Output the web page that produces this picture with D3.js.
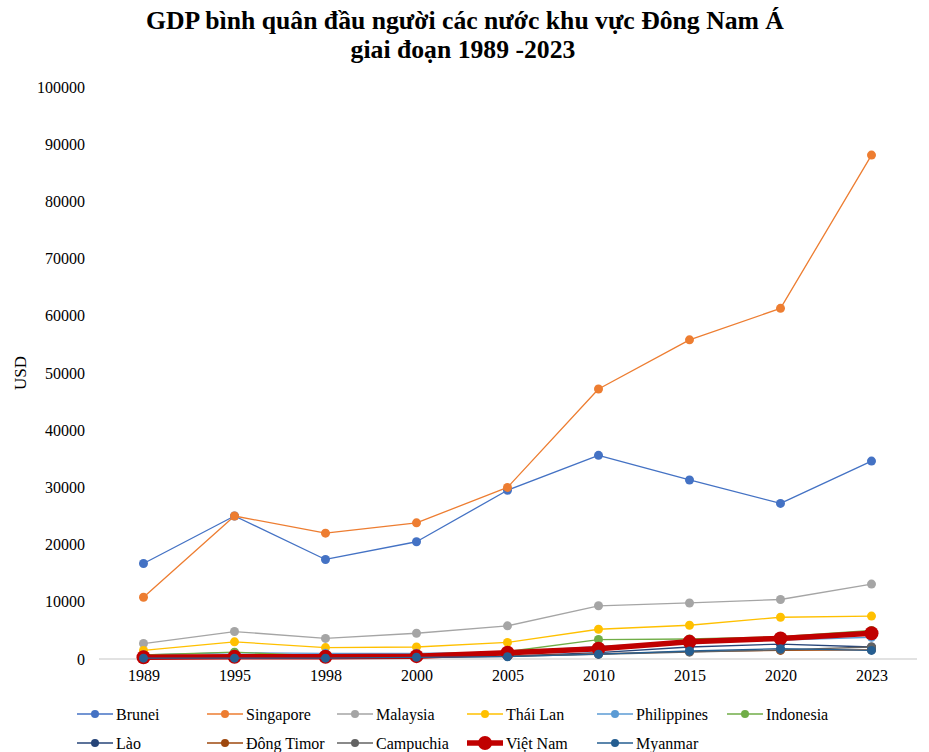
<!DOCTYPE html>
<html>
<head>
<meta charset="utf-8">
<script src="https://cdn.jsdelivr.net/npm/d3@7"></script>
<style>
  body { margin: 0; background: #fff; }
  svg text { font-family: 'Liberation Serif', 'Times New Roman', serif; fill: #000; }
</style>
</head>
<body>
<script>
const years = ['1989', '1995', '1998', '2000', '2005', '2010', '2015', '2020', '2023']
const yTicks = [0, 10000, 20000, 30000, 40000, 50000, 60000, 70000, 80000, 90000, 100000]

const brunei = [16700, 25000, 17400, 20500, 29500, 35600, 31300, 27200, 34600]
const singapore = [10800, 25000, 22000, 23800, 30000, 47200, 55800, 61300, 88100]
const malaysia = [2700, 4800, 3600, 4500, 5800, 9300, 9800, 10400, 13100]
const thaiLan = [1500, 3000, 2000, 2100, 2900, 5200, 5900, 7300, 7500]
const philippines = [700, 1100, 1000, 1000, 1200, 2200, 2900, 3300, 3800]
const indonesia = [700, 1200, 500, 800, 1300, 3400, 3500, 3900, 5000]
const lao = [200, 400, 300, 300, 500, 1100, 2100, 2600, 2100]
const dongTimor = [300, 400, 400, 400, 500, 900, 1300, 1500, 1600]
const campuchia = [100, 300, 270, 300, 470, 800, 1200, 1600, 2100]
const vietNam = [300, 400, 400, 500, 1100, 1800, 3000, 3600, 4500]
const myanmar = [150, 150, 150, 300, 400, 850, 1400, 1800, 1500]

const series = [
  { name: 'Brunei', values: brunei, color: '#4472C4' },
  { name: 'Singapore', values: singapore, color: '#ED7D31' },
  { name: 'Malaysia', values: malaysia, color: '#A5A5A5' },
  { name: 'Thái Lan', values: thaiLan, color: '#FFC000' },
  { name: 'Philippines', values: philippines, color: '#5B9BD5' },
  { name: 'Indonesia', values: indonesia, color: '#70AD47' },
  { name: 'Lào', values: lao, color: '#264478' },
  { name: 'Đông Timor', values: dongTimor, color: '#9E480E' },
  { name: 'Campuchia', values: campuchia, color: '#636363' },
  { name: 'Việt Nam', values: vietNam, color: '#C00000', bold: true },
  { name: 'Myanmar', values: myanmar, color: '#255E91' }
]

const W = 929
const H = 752
const serif = "'Liberation Serif', 'Times New Roman', serif"
const svg = d3.select('body').append('svg')
  .attr('width', W)
  .attr('height', H)

const xScale = d3.scalePoint()
  .domain(years)
  .range([98, 917])
  .padding(0.5)

const yScale = d3.scaleLinear()
  .domain([0, 100000])
  .range([659, 87])

// title
const title = svg.append('text')
  .attr('text-anchor', 'middle')
  .attr('font-family', serif)
  .style('font-size', '25.7px').style('font-weight', 'bold')
title.append('tspan').attr('x', 465).attr('y', 29)
  .text('GDP bình quân đầu người các nước khu vực Đông Nam Á')
title.append('tspan').attr('x', 463).attr('y', 58)
  .text('giai đoạn 1989 -2023')

// y axis labels
const yAxis = svg.append('g')
  .attr('transform', 'translate(85, 0)')
  .call(d3.axisLeft(yScale).tickValues(yTicks).tickSize(0).tickPadding(0).tickFormat(d3.format('d')))
yAxis.attr('font-family', serif).attr('font-size', 16)
yAxis.select('.domain').remove()
yAxis.selectAll('text')
  .style('font-family', serif)
  .style('font-size', '16px')
  .attr('fill', '#000')

svg.append('text')
  .attr('transform', `translate(26, ${yScale(50000)}) rotate(-90)`)
  .attr('text-anchor', 'middle')
  .attr('font-family', serif)
  .style('font-size', '17px')
  .text('USD')

// x axis
const xAxis = svg.append('g')
  .attr('transform', `translate(0, ${yScale(0)})`)
  .call(d3.axisBottom(xScale).tickSize(0).tickPadding(11))
xAxis.attr('font-family', serif).attr('font-size', 16)
xAxis.select('.domain')
  .attr('d', 'M99,0H917')
  .attr('stroke', '#d9d9d9')
  .attr('stroke-width', 1.3)
xAxis.selectAll('text')
  .style('font-family', serif)
  .style('font-size', '16px')
  .attr('fill', '#000')

const line = d3.line()
  .x((d, i) => xScale(years[i]))
  .y(d => yScale(d))

const groups = svg.selectAll('.series')
  .data(series)
  .enter().append('g')
  .attr('class', 'series')

groups.append('path')
  .attr('d', d => line(d.values))
  .attr('fill', 'none')
  .attr('stroke', d => d.color)
  .attr('stroke-width', d => d.bold ? 5.5 : 1.3)
  .attr('stroke-linejoin', 'round')

groups.selectAll('circle')
  .data(d => d.values.map((v, i) => ({ v, i, s: d })))
  .enter().append('circle')
  .attr('cx', d => xScale(years[d.i]))
  .attr('cy', d => yScale(d.v))
  .attr('r', d => d.s.bold ? 7 : 4.5)
  .attr('fill', d => d.s.color)

// legend
const legend = svg.selectAll('.legend')
  .data(series)
  .enter().append('g')
  .attr('class', 'legend')
  .attr('transform', (d, i) => `translate(${77 + (i % 6) * 130}, ${i < 6 ? 714 : 743})`)

legend.append('line')
  .attr('x1', 0).attr('x2', 36)
  .attr('stroke', d => d.color)
  .attr('stroke-width', d => d.bold ? 5.5 : 1.3)
legend.append('circle')
  .attr('cx', 18)
  .attr('r', d => d.bold ? 7 : 4)
  .attr('fill', d => d.color)
legend.append('text')
  .attr('x', 39)
  .attr('dy', '0.35em')
  .attr('font-family', serif)
  .style('font-size', '16px')
  .text(d => d.name)
</script>
</body>
</html>
